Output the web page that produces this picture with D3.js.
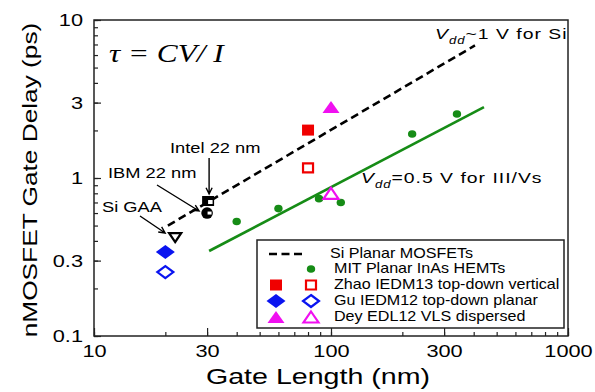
<!DOCTYPE html>
<html>
<head>
<meta charset="utf-8">
<script src="https://cdn.jsdelivr.net/npm/d3@7"></script>
<style>
  body { margin: 0; background: #fff; }
  text { font-family: "Liberation Sans", Arial, sans-serif; fill: #000; }
</style>
</head>
<body>
<div id="chart"></div>
<script>
// ---- data ----
var siFitLength = [20.5, 405];          // Si planar MOSFET trend, Vdd ~ 1 V
var siFitDelay = [0.50, 6.9];
var inasFitLength = [30.6, 442];        // III-V trend, Vdd = 0.5 V
var inasFitDelay = [0.345, 2.81];
var mitLength = [40, 60, 89, 110, 220, 340];
var mitDelay = [0.53, 0.64, 0.74, 0.70, 1.90, 2.54];
var zhaoLength = [80, 80];              // [filled, open]
var zhaoDelay = [2.01, 1.16];
var guLength = [20, 20];
var guDelay = [0.34, 0.254];
var deyLength = [100, 100];
var deyDelay = [2.81, 0.80];
var siRefNames = ["Intel 22 nm", "IBM 22 nm", "Si GAA"];
var siRefLength = [30.3, 30, 22];
var siRefDelay = [0.715, 0.60, 0.42];
var xTickValues = [10, 30, 100, 300, 1000];
var yTickValues = [0.1, 0.3, 1, 3, 10];
var legendLabels = ["Si Planar MOSFETs", "MIT Planar InAs HEMTs", "Zhao IEDM13 top-down vertical",
                    "Gu IEDM12 top-down planar", "Dey EDL12 VLS dispersed"];

var RED = "#f00000", BLUE = "#0a14f0", MAGENTA = "#f010f0", GREEN = "#168c16";

var svg = d3.select("#chart").append("svg")
  .attr("width", 595)
  .attr("height", 392);

var x = d3.scaleLog().domain([10, 1000]).range([94, 568]);
var y = d3.scaleLog().domain([0.1, 10]).range([336, 20]);

// wide text helper: the original font runs wider than Arial
function wide(sel, k) {
  sel.each(function () {
    var t = d3.select(this);
    var tx = +t.attr("x") || 0;
    t.attr("x", 0).attr("transform", "translate(" + tx + ",0) scale(" + k + ",1)");
  });
}

// ---- axes ----
var xMinor = svg.append("g").attr("transform", "translate(0,336)")
  .call(d3.axisBottom(x).tickValues(x.ticks()).tickSize(-4).tickFormat(""));
var xMajor = svg.append("g").attr("transform", "translate(0,336)")
  .call(d3.axisBottom(x).tickValues(xTickValues).tickSize(-8).tickPadding(9)
    .tickFormat(d3.format("d")));
var yMinor = svg.append("g").attr("transform", "translate(94,0)")
  .call(d3.axisLeft(y).tickValues(y.ticks()).tickSize(-4).tickFormat(""));
var yMajor = svg.append("g").attr("transform", "translate(94,0)")
  .call(d3.axisLeft(y).tickValues(yTickValues).tickSize(-7).tickPadding(11)
    .tickFormat(function (d) { return d < 1 ? d3.format(".1f")(d) : d3.format("d")(d); }));

[xMinor, xMajor, yMinor, yMajor].forEach(function (g) {
  g.select(".domain").remove();
  g.selectAll(".tick line").attr("stroke", "#222").attr("stroke-width", 1.2);
  g.selectAll("text").attr("font-size", 17).attr("font-family", null).attr("fill", "#000");
});
wide(xMajor.selectAll("text"), 1.28);
wide(yMajor.selectAll("text"), 1.28);

// frame
svg.append("rect")
  .attr("x", 94).attr("y", 20).attr("width", 474).attr("height", 316)
  .attr("fill", "none").attr("stroke", "#222").attr("stroke-width", 1.5);

// axis titles
svg.append("text")
  .attr("x", 318).attr("y", 384)
  .attr("text-anchor", "middle").attr("font-size", 22)
  .text("Gate Length (nm)")
  .call(wide, 1.3);

svg.append("g").attr("transform", "translate(37,180) rotate(-90)")
  .append("text")
  .attr("text-anchor", "middle").attr("font-size", 21)
  .text("nMOSFET Gate Delay (ps)")
  .call(wide, 1.25);

// ---- trend lines ----
var line = d3.line().x(function (d) { return x(d[0]); }).y(function (d) { return y(d[1]); });

svg.append("path")
  .datum(d3.zip(siFitLength, siFitDelay))
  .attr("d", line)
  .attr("fill", "none").attr("stroke", "#000").attr("stroke-width", 2.6)
  .attr("stroke-dasharray", "8,4.5");

svg.append("path")
  .datum(d3.zip(inasFitLength, inasFitDelay))
  .attr("d", line)
  .attr("fill", "none").attr("stroke", GREEN).attr("stroke-width", 2.6);

// ---- marker shapes ----
function square(w, h) {
  return "M" + (-w / 2) + "," + (-h / 2) + "h" + w + "v" + h + "h" + (-w) + "Z";
}
function diamond(w, h) {
  return "M0," + (-h / 2) + "L" + (w / 2) + ",0L0," + (h / 2) + "L" + (-w / 2) + ",0Z";
}
function triUp(w, h) {
  return "M0," + (-h / 2) + "L" + (w / 2) + "," + (h / 2) + "L" + (-w / 2) + "," + (h / 2) + "Z";
}
function triDown(w, h) {
  return "M0," + (h / 2) + "L" + (w / 2) + "," + (-h / 2) + "L" + (-w / 2) + "," + (-h / 2) + "Z";
}

function pair(lengths, delays, shape, color, sw) {
  svg.selectAll(null)
    .data(d3.zip(lengths, delays))
    .enter().append("path")
    .attr("transform", function (d) { return "translate(" + x(d[0]) + "," + y(d[1]) + ")"; })
    .attr("d", function (d, i) { return i === 0 ? shape.filled : shape.open; })
    .attr("fill", function (d, i) { return i === 0 ? color : "#fff"; })
    .attr("stroke", color)
    .attr("stroke-width", function (d, i) { return i === 0 ? 0 : sw; });
}

// MIT InAs HEMTs
svg.selectAll(".mit")
  .data(d3.zip(mitLength, mitDelay))
  .enter().append("ellipse")
  .attr("cx", function (d) { return x(d[0]); })
  .attr("cy", function (d) { return y(d[1]); })
  .attr("rx", 4.2).attr("ry", 3.8)
  .attr("fill", GREEN);

pair(zhaoLength, zhaoDelay, { filled: square(12, 11), open: square(10, 9) }, RED, 2.2);
pair(guLength, guDelay, { filled: diamond(19, 14), open: diamond(16, 12) }, BLUE, 2.2);
pair(deyLength, deyDelay, { filled: triUp(17, 12), open: triUp(15, 11) }, MAGENTA, 2.2);

// Si reference devices
var intel = [x(siRefLength[0]), y(siRefDelay[0])];
var ibm = [x(siRefLength[1]), y(siRefDelay[1])];
var gaa = [x(siRefLength[2]), y(siRefDelay[2])];

svg.append("path").attr("transform", "translate(" + intel + ")")
  .attr("d", square(12, 10)).attr("fill", "#000");
svg.append("rect").attr("x", intel[0]).attr("y", intel[1] - 1).attr("width", 4.5).attr("height", 4)
  .attr("fill", "#fff");
svg.append("circle").attr("cx", ibm[0]).attr("cy", ibm[1]).attr("r", 5.8).attr("fill", "#000");
svg.append("rect").attr("x", ibm[0] + 0.5).attr("y", ibm[1] - 1.5).attr("width", 4).attr("height", 3)
  .attr("fill", "#fff");
svg.append("path").attr("transform", "translate(" + gaa + ")")
  .attr("d", triDown(12, 9)).attr("fill", "#fff").attr("stroke", "#000").attr("stroke-width", 2.3);

// ---- annotations with arrows ----
function arrow(x1, y1, x2, y2) {
  var a = Math.atan2(y2 - y1, x2 - x1), L = 7, s = 0.45;
  svg.append("path")
    .attr("d", "M" + x1 + "," + y1 + "L" + x2 + "," + y2 +
      "M" + (x2 - L * Math.cos(a - s)) + "," + (y2 - L * Math.sin(a - s)) + "L" + x2 + "," + y2 +
      "L" + (x2 - L * Math.cos(a + s)) + "," + (y2 - L * Math.sin(a + s)))
    .attr("fill", "none").attr("stroke", "#000").attr("stroke-width", 1.4);
}

arrow(intel[0] + 1, 158, intel[0] + 1, 194);
arrow(157, 185, ibm[0] - 8, 211);
arrow(140, 216, gaa[0] - 10, 233);

svg.append("text").attr("x", 170).attr("y", 153).attr("font-size", 15)
  .text(siRefNames[0]).call(wide, 1.22);
svg.append("text").attr("x", 108).attr("y", 178).attr("font-size", 15)
  .text(siRefNames[1]).call(wide, 1.22);
svg.append("text").attr("x", 102).attr("y", 212).attr("font-size", 15)
  .text(siRefNames[2]).call(wide, 1.22);

// tau = CV/I
svg.append("text").attr("x", 109).attr("y", 62)
  .attr("font-style", "italic").attr("font-size", 25)
  .style("font-family", "'Liberation Serif','Times New Roman',serif")
  .attr("xml:space", "preserve")
  .text("\u03c4 = CV/ I").call(wide, 1.25);

// Vdd labels
function vdd(px, py, rest) {
  var g = svg.append("g").attr("transform", "translate(" + px + "," + py + ") scale(1.25,1)");
  var t = g.append("text").attr("font-size", 15.5).attr("letter-spacing", 0.8);
  t.append("tspan").attr("font-style", "italic").text("V");
  t.append("tspan").attr("font-style", "italic").attr("font-size", 10.5).attr("dy", 5).text("dd");
  t.append("tspan").attr("dy", -5).text(rest);
}
vdd(435, 39, "~1 V for Si");
vdd(361, 183, "=0.5 V for III/Vs");

// ---- legend ----
var legend = svg.append("g");
legend.append("rect")
  .attr("x", 257).attr("y", 240).attr("width", 307).attr("height", 88)
  .attr("fill", "#fff").attr("stroke", "#222").attr("stroke-width", 1.5);

var rowY = [254, 269, 285, 301, 317];
legend.append("line")
  .attr("x1", 269).attr("x2", 303).attr("y1", rowY[0]).attr("y2", rowY[0])
  .attr("stroke", "#000").attr("stroke-width", 2.6).attr("stroke-dasharray", "8,4.5");
legend.append("ellipse").attr("cx", 311).attr("cy", rowY[1]).attr("rx", 4.2).attr("ry", 3.8)
  .attr("fill", GREEN);

var legShapes = [
  [square(12, 11), square(10, 9), RED],
  [diamond(19, 14), diamond(16, 12), BLUE],
  [triUp(17, 12), triUp(15, 11), MAGENTA]
];
legShapes.forEach(function (s, i) {
  var yy = rowY[i + 2];
  legend.append("path").attr("transform", "translate(276," + yy + ")").attr("d", s[0]).attr("fill", s[2]);
  legend.append("path").attr("transform", "translate(311," + yy + ")").attr("d", s[1])
    .attr("fill", "#fff").attr("stroke", s[2]).attr("stroke-width", 2.2);
});

legend.selectAll(".lt")
  .data(legendLabels)
  .enter().append("text")
  .attr("x", function (d, i) { return i === 0 ? 330 : 334; })
  .attr("y", function (d, i) { return rowY[i] + 4.5; })
  .attr("font-size", 14)
  .text(function (d) { return d; })
  .call(wide, 1.15);
</script>
</body>
</html>
